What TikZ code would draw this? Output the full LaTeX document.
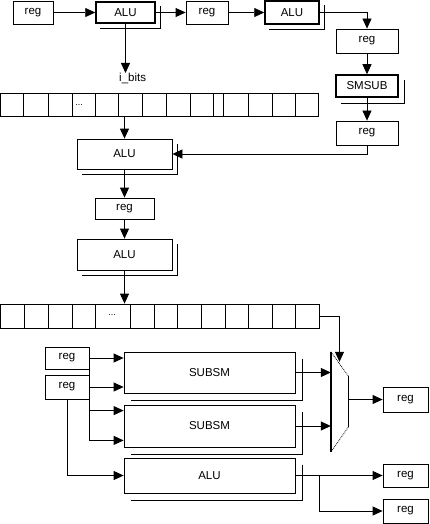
\documentclass[tikz,border=0pt]{standalone}
\usepackage{fontspec}
\setmainfont{Liberation Sans}
\usetikzlibrary{arrows.meta}

\begin{document}
\begin{tikzpicture}[x=1pt, y=-1pt,
    box/.style={draw, line width=0.8pt, inner sep=0pt, font=\fontsize{11.5}{13}\selectfont},
    boldbox/.style={box, line width=1.5pt},
    arrow/.style={-{Triangle[length=10pt,width=9pt]}, line width=0.8pt},
    wire/.style={line width=0.8pt},
    dots/.style={inner sep=0pt, font=\fontsize{9}{10}\selectfont},
  ]
    \useasboundingbox (0,0) rectangle (429,524);

    % top row
    \node[box, minimum width=40, minimum height=23] (rega) at (33,12.5) {reg};
    \node[boldbox, minimum width=59, minimum height=21] (alua) at (125.5,12.5) {ALU};
    \node[box, minimum width=42, minimum height=23] (regb) at (207,12.5) {reg};
    \node[boldbox, minimum width=54, minimum height=23] (alub) at (292,12.5) {ALU};

    % right column
    \node[box, minimum width=62, minimum height=24] (regc) at (367,41) {reg};
    \node[boldbox, minimum width=62, minimum height=22] (smsub) at (367,86) {SMSUB};
    \node[box, minimum width=62, minimum height=24] (regd) at (367,133) {reg};

    % first bit array
    \node[inner sep=0pt, anchor=north west, font=\fontsize{11.5}{13}\selectfont] (bitlbl) at (119,73) {i\_bits};
    \node[draw, wire, minimum width=318, minimum height=23, inner sep=0pt] (bitsa) at (159.5,104.5) {};
    \foreach \x in {23,48,72,95,118,142,166,190,213,223,248,272,295}
      \draw[wire] (\x,93) -- (\x,116);
    \node[dots] (dotsa) at (79,105) {...};

    % middle column
    \node[box, minimum width=95, minimum height=30] (aluc) at (124.5,154) {ALU};
    \node[box, minimum width=59, minimum height=21] (rege) at (124.5,208.5) {reg};
    \node[box, minimum width=95, minimum height=31] (alud) at (124.5,254.5) {ALU};

    % second bit array
    \node[draw, wire, minimum width=319, minimum height=24, inner sep=0pt] (bitsb) at (160,316) {};
    \foreach \x in {24,48,72,95,130,154,177,201,225,248,272,295}
      \draw[wire] (\x,304) -- (\x,328);
    \node[dots] (dotsb) at (112,315) {...};

    % lower part
    \node[box, minimum width=44, minimum height=22] (regf) at (67,358) {reg};
    \node[box, minimum width=44, minimum height=24] (regg) at (67,387) {reg};
    \node[box, minimum width=171, minimum height=41] (subsma) at (209.5,372.5) {SUBSM};
    \node[box, minimum width=171, minimum height=42] (subsmb) at (209.5,426) {SUBSM};
    \node[box, minimum width=171, minimum height=35] (alue) at (209.5,475.5) {ALU};
    \node[box, minimum width=45, minimum height=25] (regh) at (405.5,399.5) {reg};
    \node[box, minimum width=45, minimum height=23] (regi) at (405.5,475.5) {reg};
    \node[box, minimum width=45, minimum height=24] (regj) at (405.5,511) {reg};

    % mux
    \node[minimum width=17, minimum height=100, inner sep=0pt] (mux) at (339.5,402) {};
    \draw[line width=1.6pt] (mux.north west) -- (mux.south west);
    \draw[wire, densely dotted] (mux.north west) -- ([yshift=-24pt]mux.north east);
    \draw[wire] ([yshift=-24pt]mux.north east) -- ([yshift=25pt]mux.south east);
    \draw[wire, densely dotted] ([yshift=25pt]mux.south east) -- (mux.south west);

    % shadows
    \foreach \n/\d in {alua/5,alub/5,smsub/6,aluc/5,alud/5,subsma/7,subsmb/7,alue/7}
      \draw[wire] ([shift={(\d pt,-\d pt)}]\n.north east) |- ([shift={(\d pt,-\d pt)}]\n.south west);

    \draw[arrow] (rega) -- (alua);
    \draw[arrow] (alua) -- (regb);
    \draw[arrow] (regb) -- (alub);
    \draw[arrow] (alub.east) -| (regc.north);
    \draw[arrow] (regc) -- (smsub);
    \draw[arrow] (smsub) -- (regd);
    \draw[arrow] (regd.south) |- (aluc.east);
    \draw[arrow] (alua.south) -- (alua.south |- bitlbl.north);
    \draw[arrow] (bitsa.south -| aluc) -- (aluc.north);
    \draw[arrow] (aluc) -- (rege);
    \draw[arrow] (rege) -- (alud);
    \draw[arrow] (alud.south) -- (alud.south |- bitsb.north);
    \draw[arrow] (bitsb.east) -| ([yshift=-10pt]mux.north);
    \draw[arrow] (regf.east) -- (regf.east -| subsma.west);
    \draw[arrow] (regg.east) -- (regg.east -| subsma.west);
    \draw[arrow] (regf.east) |- ([yshift=-6pt]subsmb.north west);
    \draw[arrow] (regf.east) |- ([yshift=7pt]subsmb.south west);
    \draw[arrow] (regg.south) |- (alue.west);
    \draw[arrow] (subsma.east) -- (subsma.east -| mux.west);
    \draw[arrow] (subsmb.east) -- (subsmb.east -| mux.west);
    \draw[arrow] (regh.west -| mux.east) -- (regh.west);
    \draw[arrow] (alue) -- (regi);
    \coordinate (split) at (319,475.5);
    \draw[arrow] (split) |- (regj.west);
  \end{tikzpicture}
\end{document}
